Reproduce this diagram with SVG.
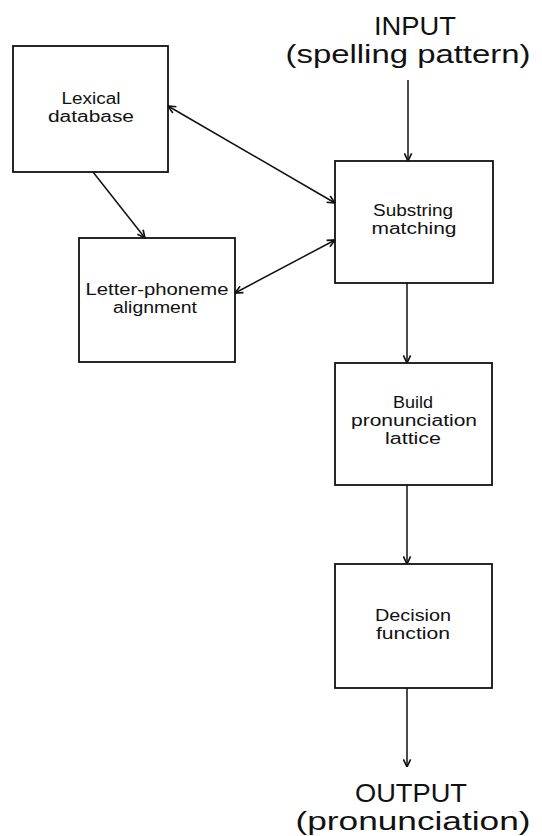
<svg xmlns="http://www.w3.org/2000/svg" width="542" height="836" viewBox="0 0 542 836">
<style>
.box{fill:#fff;stroke:#111;stroke-width:1.8}
.lbl{font-family:"Liberation Sans",Arial,sans-serif;font-size:16px;fill:#111;text-anchor:middle}
.big{font-family:"Liberation Sans",Arial,sans-serif;font-size:25px;fill:#111;text-anchor:middle}
.con{fill:none;stroke:#111;stroke-width:1.5}
</style>
<defs>
<marker id="ah" viewBox="0 0 10 10" refX="9.5" refY="5" markerWidth="9" markerHeight="9" markerUnits="userSpaceOnUse" orient="auto-start-reverse">
<path d="M1,1 L9.5,5 L1,9" fill="none" stroke="#111" stroke-width="1.8"/>
</marker>
</defs>
<rect width="542" height="836" fill="#fff"/>
<g id="input"><text class="big" x="415" y="35" textLength="82" lengthAdjust="spacingAndGlyphs">INPUT</text><text class="big" x="408" y="63" textLength="245" lengthAdjust="spacingAndGlyphs">(spelling pattern)</text></g>
<g id="lexical"><rect class="box" x="13" y="46" width="155" height="126"/><text class="lbl" x="91" y="104" textLength="59" lengthAdjust="spacingAndGlyphs">Lexical</text><text class="lbl" x="91" y="122" textLength="86" lengthAdjust="spacingAndGlyphs">database</text></g>
<g id="substring"><rect class="box" x="335" y="161" width="158" height="122"/><text class="lbl" x="413" y="216" textLength="80" lengthAdjust="spacingAndGlyphs">Substring</text><text class="lbl" x="414" y="234" textLength="85" lengthAdjust="spacingAndGlyphs">matching</text></g>
<g id="letter"><rect class="box" x="79" y="238" width="156" height="124"/><text class="lbl" x="157" y="295" textLength="143" lengthAdjust="spacingAndGlyphs">Letter-phoneme</text><text class="lbl" x="155" y="313" textLength="84" lengthAdjust="spacingAndGlyphs">alignment</text></g>
<g id="build"><rect class="box" x="335" y="363" width="157" height="122"/><text class="lbl" x="413" y="408" textLength="40" lengthAdjust="spacingAndGlyphs">Build</text><text class="lbl" x="414" y="426" textLength="126" lengthAdjust="spacingAndGlyphs">pronunciation</text><text class="lbl" x="413" y="444" textLength="56" lengthAdjust="spacingAndGlyphs">lattice</text></g>
<g id="decision"><rect class="box" x="335" y="564" width="157" height="124"/><text class="lbl" x="413" y="621" textLength="76" lengthAdjust="spacingAndGlyphs">Decision</text><text class="lbl" x="413" y="639" textLength="74" lengthAdjust="spacingAndGlyphs">function</text></g>
<g id="output"><text class="big" x="411" y="802" textLength="112" lengthAdjust="spacingAndGlyphs">OUTPUT</text><text class="big" x="413" y="830" textLength="235" lengthAdjust="spacingAndGlyphs">(pronunciation)</text></g>
<g id="connectors">
<line class="con" x1="408" y1="80" x2="408" y2="161" marker-end="url(#ah)"/>
<line class="con" x1="168" y1="106" x2="335" y2="203" marker-start="url(#ah)" marker-end="url(#ah)"/>
<line class="con" x1="93" y1="172" x2="145" y2="238" marker-end="url(#ah)"/>
<line class="con" x1="235" y1="293" x2="335" y2="240" marker-start="url(#ah)" marker-end="url(#ah)"/>
<line class="con" x1="407" y1="283" x2="407" y2="363" marker-end="url(#ah)"/>
<line class="con" x1="407" y1="485" x2="407" y2="564" marker-end="url(#ah)"/>
<line class="con" x1="407" y1="688" x2="407" y2="767" marker-end="url(#ah)"/>
</g>
</svg>
